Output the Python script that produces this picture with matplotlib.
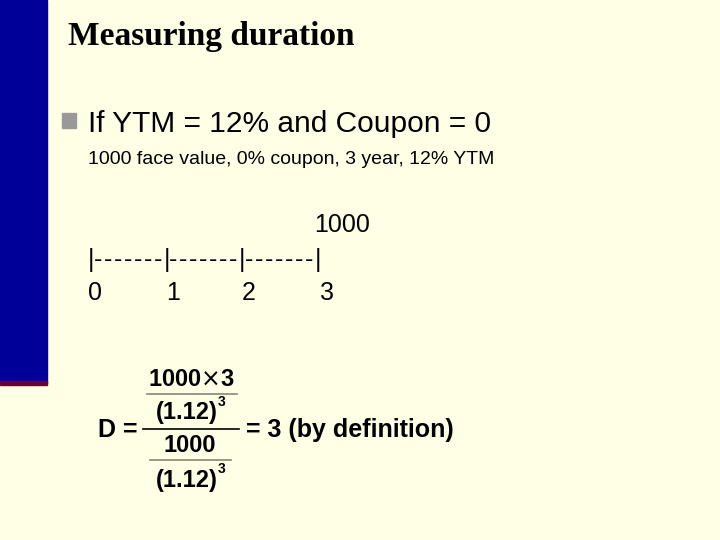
import matplotlib
matplotlib.use("Agg")
import matplotlib.pyplot as plt
from matplotlib.patches import Rectangle

title = "Measuring duration"
bullet = "If YTM = 12% and Coupon = 0"
subline = "1000 face value, 0% coupon, 3 year, 12% YTM"
cashflow = "1000"
timeline = "|-------|-------|-------|"
periods = ["0", "1", "2", "3"]
period_x = [88, 166, 242, 320]

fig = plt.figure(figsize=(7.2, 5.4), dpi=100)
fig.patch.set_facecolor("#FFFFE6")
ax = fig.add_axes([0, 0, 1, 1])
ax.set_xlim(0, 720); ax.set_ylim(540, 0); ax.axis("off")

ax.add_patch(Rectangle((0, 0), 47, 383, color="#000099"))
ax.add_patch(Rectangle((0, 381), 47, 4, color="#660033"))
ax.add_patch(Rectangle((62, 113), 14, 15, color="#999999"))

sans = "Liberation Sans"
ax.text(68, 36, title, fontsize=24, fontweight="bold", family="Liberation Serif", va="center")
ax.text(88, 124, bullet, fontsize=21.5, family=sans, va="center")
ax.text(88, 160, subline, fontsize=14, family=sans, va="center")
ax.text(370, 225, cashflow, fontsize=18, family=sans, va="center", ha="right")
x = 88
for ch in timeline:
    ax.text(x, 260, ch, fontsize=18, family=sans, va="center", ha="left")
    x += 5.5 if ch == "|" else 10.0
for px, p in zip(period_x, periods):
    ax.text(px, 293, p, fontsize=18, family=sans, va="center")

fb = dict(fontsize=17, family=sans, fontweight="bold", va="center", ha="center")
sup = dict(fontsize=10, family=sans, fontweight="bold", va="center", ha="left")
ax.text(191, 379, r"1000$\times$3", **fb)
ax.plot([147, 237], [394, 394], color="#888877", lw=1.2)
ax.text(187, 413, "(1.12)", **fb)
ax.text(218, 402, "3", **sup)
ax.plot([143, 239], [429, 429], color="black", lw=1.2)
ax.text(190, 445, "1000", **fb)
ax.plot([150, 231], [460, 460], color="#888877", lw=1.2)
ax.text(187, 480, "(1.12)", **fb)
ax.text(218, 469, "3", **sup)
ax.text(98, 430, "D =", fontsize=18, family=sans, fontweight="bold", va="center", ha="left")
ax.text(246, 430, "= 3 (by definition)", fontsize=18, family=sans, fontweight="bold", va="center", ha="left")

fig.savefig("out.png", dpi=100, facecolor=fig.get_facecolor())
